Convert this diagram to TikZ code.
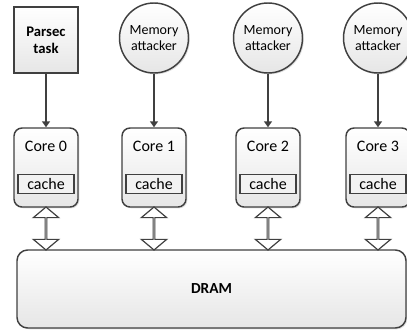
\documentclass[tikz,border=0pt]{standalone}
\usepackage{fontspec}
\setmainfont{Carlito}
\usetikzlibrary{arrows.meta,positioning,calc,shapes.geometric,shapes.arrows,shadows}
\definecolor{LineGray}{HTML}{404040}
\definecolor{FillGray}{HTML}{E6E6E6}
\tikzset{
  caja/.style     = {draw=LineGray, line width=1.1pt, top color=white,
                     bottom color=FillGray,
                     drop shadow={shadow xshift=1pt, shadow yshift=-1pt,
                                  opacity=0.25, fill=gray}},
  tarea/.style    = {caja, align=center, inner sep=0pt,
                     minimum width=48pt, minimum height=49.5pt,
                     font=\fontsize{11}{13}\selectfont\bfseries},
  atacante/.style = {caja, ellipse, align=center, inner sep=0pt,
                     minimum width=45.75pt, minimum height=52.5pt,
                     font=\fontsize{10.5}{12.5}\selectfont},
  nucleo/.style   = {caja, rounded corners=6pt, minimum width=48pt,
                     minimum height=59.25pt},
  cachebox/.style = {draw=LineGray, line width=1.1pt, fill=FillGray!50,
                     inner sep=0pt, minimum width=42pt, minimum height=14.25pt},
  memoria/.style  = {caja, rounded corners=8pt, minimum width=291.75pt,
                     minimum height=58.5pt,
                     font=\fontsize{11.5}{13.5}\selectfont\bfseries},
  bus/.style      = {double arrow, draw=LineGray, line width=0.9pt, fill=white,
                     rotate=90, inner sep=0pt, minimum width=19pt,
                     minimum height=32.25pt, double arrow head extend=6pt,
                     double arrow tip angle=100},
  flecha/.style   = {-{Triangle[length=4.5pt, width=6pt]}, draw=LineGray,
                     line width=1.1pt},
}

\begin{document}
\begin{tikzpicture}[x=0.75pt, y=-0.75pt, font=\fontsize{12}{14}\selectfont]
  \useasboundingbox (0,0) rectangle (407,329);
  % tasks on top
  \node[tarea]    (task) at (46,40)  {Parsec\\task};
  \node[atacante] (att1) at (154,38) {Memory\\attacker};
  \node[atacante] (att2) at (268,38) {Memory\\attacker};
  \node[atacante] (att3) at (378,38) {Memory\\attacker};
  % cores with their caches
  \node[nucleo] (core0) at (46,167.5)  {};
  \node[nucleo] (core1) at (154,167.5) {};
  \node[nucleo] (core2) at (268,167.5) {};
  \node[nucleo] (core3) at (378,167.5) {};
  \node (lbl0) at ([yshift=-14pt]core0.north) {Core 0};
  \node (lbl1) at ([yshift=-14pt]core1.north) {Core 1};
  \node (lbl2) at ([yshift=-14pt]core2.north) {Core 2};
  \node (lbl3) at ([yshift=-14pt]core3.north) {Core 3};
  \node[cachebox] (cache0) at ([yshift=18pt]core0.south) {cache};
  \node[cachebox] (cache1) at ([yshift=18pt]core1.south) {cache};
  \node[cachebox] (cache2) at ([yshift=18pt]core2.south) {cache};
  \node[cachebox] (cache3) at ([yshift=18pt]core3.south) {cache};
  % main memory
  \node[memoria] (dram) at (211.5,289) {DRAM};
  \draw[flecha] (task) -- (core0);
  \draw[flecha] (att1) -- (core1);
  \draw[flecha] (att2) -- (core2);
  \draw[flecha] (att3) -- (core3);
  \node[bus] (bus0) at ($(core0.south)!0.5!(core0.south |- dram.north)$) {};
  \node[bus] (bus1) at ($(core1.south)!0.5!(core1.south |- dram.north)$) {};
  \node[bus] (bus2) at ($(core2.south)!0.5!(core2.south |- dram.north)$) {};
  \node[bus] (bus3) at ($(core3.south)!0.5!(core3.south |- dram.north)$) {};
\end{tikzpicture}
\end{document}
